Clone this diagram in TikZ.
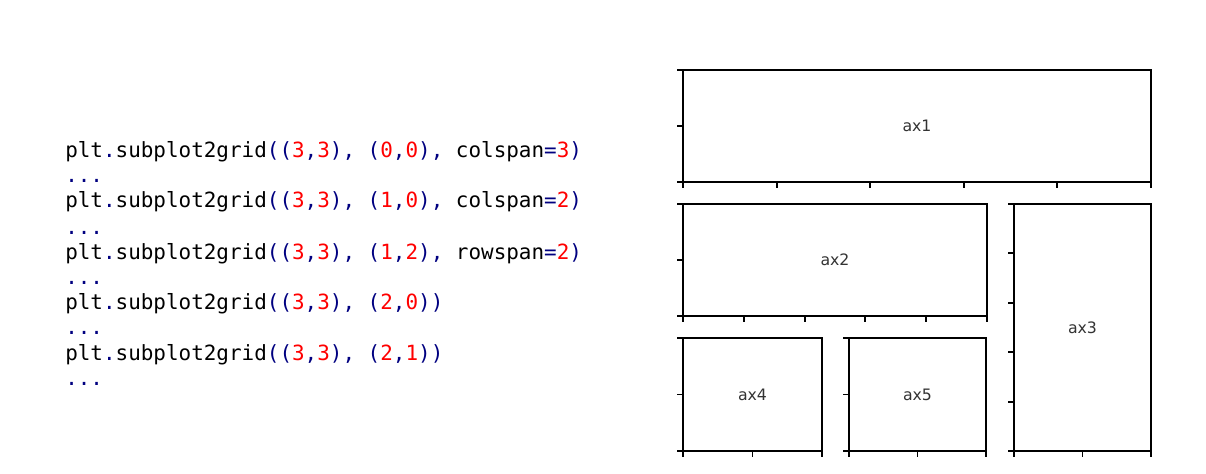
\documentclass[tikz,border=0pt]{standalone}
\usepackage{fontspec}
\setsansfont{DejaVu Sans}
\setmonofont{DejaVu Sans Mono}
\usetikzlibrary{calc}
\definecolor{codeblue}{HTML}{000080}
\definecolor{codered}{HTML}{FF0000}
\definecolor{labelgray}{HTML}{333333}
\newcommand{\bluep}[1]{\textcolor{codeblue}{#1}}
\newcommand{\rednum}[1]{\textcolor{codered}{#1}}
\tikzset{
  spine/.style={line width=1.4pt, black},
  axlabel/.style={font=\sffamily\fontsize{11.8}{13}\selectfont, text=labelgray, inner sep=0pt},
  codeline/.style={font=\ttfamily\fontsize{15.7}{18}\selectfont, anchor=base west, inner sep=0pt}
}
% one subplot: name, left, top, right, bottom, x intervals, y intervals
\newcommand{\subax}[7]{%
  \coordinate (#1-nw) at (#2,#3);
  \coordinate (#1-se) at (#4,#5);
  \draw[spine] (#1-nw) rectangle (#1-se);
  \node[axlabel] (#1) at ($(#1-nw)!0.5!(#1-se)$) {#1};
  \foreach \i in {0,...,#6} \draw[spine] ($(#2,#5)!\i/#6!(#4,#5)$) -- ++(0,6);% bottom ticks
  \foreach \j in {0,...,#7} \draw[spine] ($(#2,#3)!\j/#7!(#2,#5)$) -- ++(-6,0);% left ticks
}
\begin{document}
\begin{tikzpicture}[x=0.75pt, y=-0.75pt]
    \useasboundingbox (0,0) rectangle (1206,474);
    % the code on the left
    \node[codeline] (line0) at (65,158) {plt\bluep{.}subplot2grid\bluep{((}\rednum{3}\bluep{,}\rednum{3}\bluep{),} \bluep{(}\rednum{0}\bluep{,}\rednum{0}\bluep{),} colspan\bluep{=}\rednum{3}\bluep{)}};
    \node[codeline] (dots0) at (65,183) {\bluep{...}};
    \node[codeline] (line1) at (65,208) {plt\bluep{.}subplot2grid\bluep{((}\rednum{3}\bluep{,}\rednum{3}\bluep{),} \bluep{(}\rednum{1}\bluep{,}\rednum{0}\bluep{),} colspan\bluep{=}\rednum{2}\bluep{)}};
    \node[codeline] (dots1) at (65,234) {\bluep{...}};
    \node[codeline] (line2) at (65,259) {plt\bluep{.}subplot2grid\bluep{((}\rednum{3}\bluep{,}\rednum{3}\bluep{),} \bluep{(}\rednum{1}\bluep{,}\rednum{2}\bluep{),} rowspan\bluep{=}\rednum{2}\bluep{)}};
    \node[codeline] (dots2) at (65,284) {\bluep{...}};
    \node[codeline] (line3) at (65,309) {plt\bluep{.}subplot2grid\bluep{((}\rednum{3}\bluep{,}\rednum{3}\bluep{),} \bluep{(}\rednum{2}\bluep{,}\rednum{0}\bluep{))}};
    \node[codeline] (dots3) at (65,334) {\bluep{...}};
    \node[codeline] (line4) at (65,360) {plt\bluep{.}subplot2grid\bluep{((}\rednum{3}\bluep{,}\rednum{3}\bluep{),} \bluep{(}\rednum{2}\bluep{,}\rednum{1}\bluep{))}};
    \node[codeline] (dots4) at (65,385) {\bluep{...}};
    % the grid of subplots on the right
    \subax{ax1}{683}{70}{1151}{182}{5}{2}
    \subax{ax2}{683}{204}{987}{316}{5}{2}
    \subax{ax3}{1014}{204}{1151}{451}{2}{5}
    \subax{ax4}{683}{338}{822}{451}{2}{2}
    \subax{ax5}{849}{338}{986}{451}{2}{2}
\end{tikzpicture}
\end{document}
